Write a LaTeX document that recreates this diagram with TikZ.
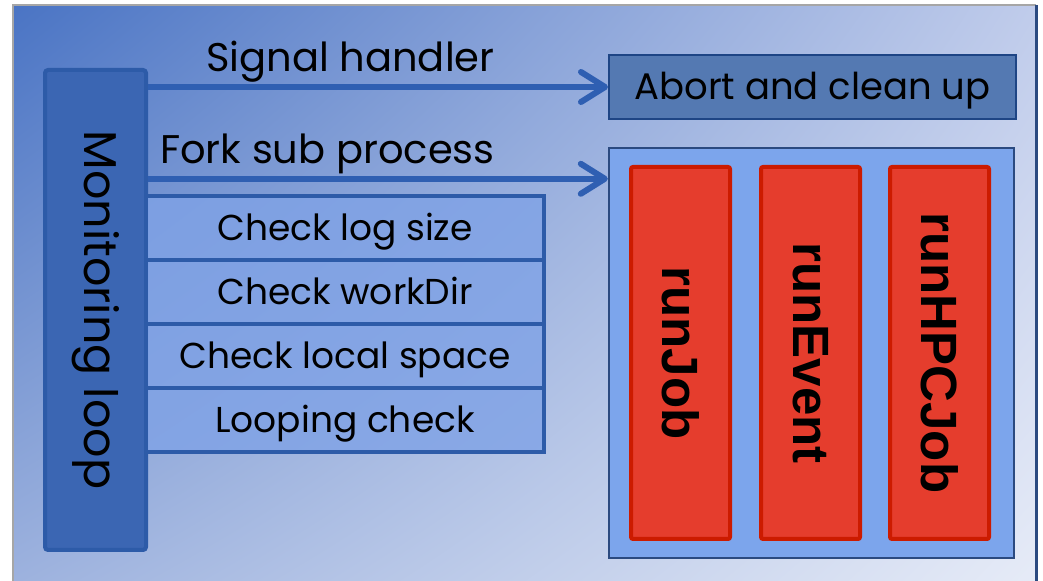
\documentclass[tikz,border=0pt]{standalone}
\usepackage{fontspec}
\setmainfont{Poppins}
\newfontfamily\jobfont{Liberation Sans}
\usetikzlibrary{arrows.meta, positioning, calc, shadings}
\definecolor{bgdark}{HTML}{4A74C4}
\definecolor{bgtopright}{HTML}{C0CCEB}
\definecolor{bgbotleft}{HTML}{9DB2DE}
\definecolor{bglight}{HTML}{E6EBF7}
\definecolor{loopblue}{HTML}{3B66B3}
\definecolor{edgeblue}{HTML}{2D5BA8}
\definecolor{rowblue}{HTML}{7FA2E6}
\definecolor{abortblue}{HTML}{5479B2}
\definecolor{abortedge}{HTML}{1E4585}
\definecolor{jobsblue}{HTML}{7CA5EC}
\definecolor{jobsedge}{HTML}{2B4A80}
\definecolor{jobred}{HTML}{E53D2D}
\definecolor{jobredge}{HTML}{CC1B00}
\definecolor{arrowblue}{HTML}{2F5FB2}
\tikzset{
  % vertical monitoring strip
  loopbox/.style={
    rectangle, rounded corners=1.5pt, draw=edgeblue, fill=loopblue, line width=2pt,
    minimum width=50.5pt, minimum height=240pt, inner sep=0pt
  },
  checkrow/.style={
    rectangle, draw=edgeblue, fill=rowblue, fill opacity=0.8, text opacity=1,
    line width=2pt, minimum width=199pt, minimum height=32pt, inner sep=0pt, outer sep=0pt,
    text height=12.6pt, text depth=0pt, font=\fontsize{18}{21}\selectfont
  },
  abortbox/.style={
    rectangle, draw=abortedge, fill=abortblue, line width=1pt,
    minimum width=203.5pt, minimum height=32pt, inner sep=0pt,
    text height=13pt, text depth=0pt, font=\fontsize{18.5}{21}\selectfont
  },
  jobframe/.style={
    rectangle, draw=jobsedge, fill=jobsblue, line width=1.2pt,
    minimum width=202.5pt, minimum height=205pt, inner sep=0pt
  },
  jobbox/.style={
    rectangle, rounded corners=1pt, draw=jobredge, fill=jobred, line width=2pt,
    minimum width=49.5pt, minimum height=186pt, inner sep=0pt
  },
  jobtext/.style={rotate=-90, font=\jobfont\bfseries\fontsize{25.5}{28}\selectfont},
  flowarrow/.style={
    -{Straight Barb[length=12pt, width=15pt, round]}, line width=3pt, arrowblue
  },
  armlabel/.style={font=\fontsize{20}{23}\selectfont, text=black, inner sep=1pt}
}

\begin{document}
\begin{tikzpicture}[x=0.5pt, y=-0.5pt]
  \useasboundingbox (0,0) rectangle (1043,581);
  % Background panel
  \shade[upper left=bgdark, upper right=bgtopright, lower left=bgbotleft, lower right=bglight]
    (13,5) rectangle (1036,581);
  \draw[line width=0.8pt, gray!70] (13,581) -- (13,5) -- (1036,5);
  \draw[line width=1.5pt, jobsedge] (1036,5) -- (1036,581);

  % Monitoring loop
  \node[loopbox] (loop) at (95.5,310) {};
  \node[rotate=-90, font=\fontsize{23}{26}\selectfont] at (loop.center) {Monitoring loop};

  % Checks
  \node[checkrow, anchor=north west] (c1) at (146,196) {Check log size};
  \node[checkrow, below=0pt of c1] (c2) {Check workDir};
  \node[checkrow, below=0pt of c2] (c3) {Check local space};
  \node[checkrow, below=0pt of c3] (c4) {Looping check};

  % Targets
  \node[abortbox] (abort) at (812.5,87) {Abort and clean up};
  \node[jobframe] (jobs) at (811.5,353) {};
  \node[jobbox] (runjob) at (680.5,353) {};
  \node[jobbox] (runevent) at (810.5,353) {};
  \node[jobbox] (runhpc) at (939.5,353) {};
  \foreach \j/\t in {runjob/runJob, runevent/runEvent, runhpc/runHPCJob}
    \node[jobtext] at (\j.center) {\t};

  % Arrows
  \coordinate (forkin) at ([yshift=-16pt]jobs.north west);
  \draw[flowarrow] (loop.east |- abort.west) -- (abort.west)
    node[armlabel, pos=0.44, above] {Signal handler};
  \draw[flowarrow] (loop.east |- forkin) -- (forkin)
    node[armlabel, pos=0.39, above] {Fork sub process};
\end{tikzpicture}
\end{document}
